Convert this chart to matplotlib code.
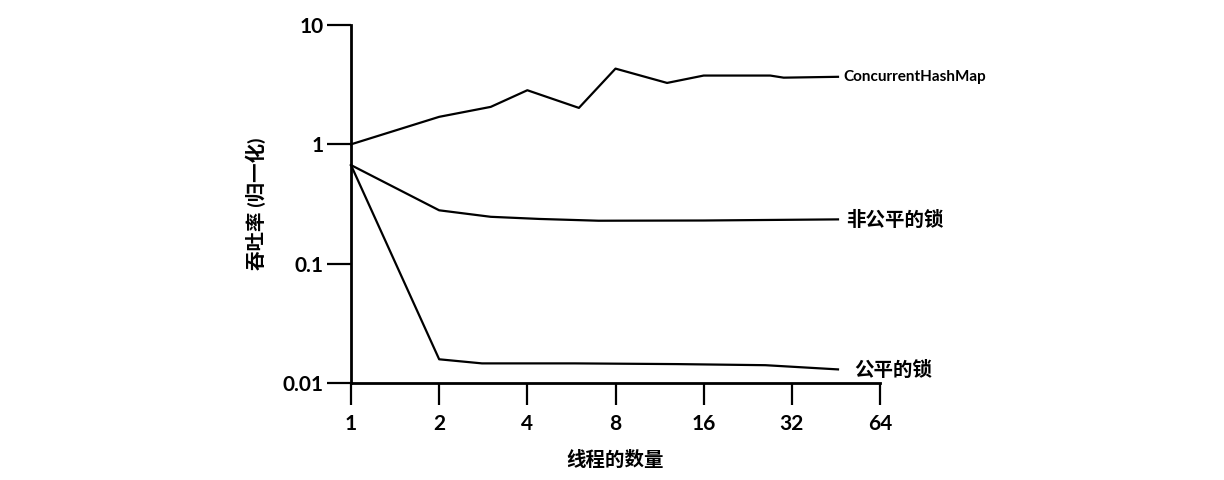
import matplotlib
matplotlib.use("Agg")
import matplotlib.pyplot as plt
from matplotlib.ticker import FixedLocator, NullLocator

plt.rcParams['font.family'] = ['Lato', 'Noto Sans CJK SC', 'DejaVu Sans']

# thread counts and normalised throughput
chm_threads = [1, 2, 3, 4, 6, 8, 12, 16, 27, 30, 46]
chm_values = [1.0, 1.70, 2.06, 2.84, 2.02, 4.31, 3.27, 3.77, 3.77, 3.62, 3.68]

unfair_threads = [1, 2, 3, 4.4, 7, 16, 46]
unfair_values = [0.67, 0.28, 0.247, 0.237, 0.229, 0.23, 0.235]

fair_threads = [1, 2, 2.8, 5.8, 13, 26, 46]
fair_values = [0.67, 0.0158, 0.0146, 0.0146, 0.0144, 0.0141, 0.0130]

series_labels = ['ConcurrentHashMap', '非公平的锁', '公平的锁']
x_ticks = [1, 2, 4, 8, 16, 32, 64]
y_ticks = [0.01, 0.1, 1, 10]
y_tick_labels = ['0.01', '0.1', '1', '10']

fig = plt.figure(figsize=(12.24, 4.80), dpi=100)
ax = fig.add_axes([351 / 1224, 1 - 383 / 480, (880 - 351) / 1224, (383 - 25) / 480])

ax.set_xscale('log', base=2)
ax.set_yscale('log')

series = [(chm_threads, chm_values), (unfair_threads, unfair_values), (fair_threads, fair_values)]
label_sizes = [11, 14, 14]
label_dx = [4, 6, 12]
for (xs, ys), name, fs, dx in zip(series, series_labels, label_sizes, label_dx):
    ax.plot(xs, ys, color='black', lw=1.6, clip_on=False)
    ax.annotate(name, (xs[-1], ys[-1]), xytext=(dx, 0), textcoords='offset points',
                va='center', ha='left', fontsize=fs, fontweight='bold')

ax.set_xlim(1, 64)
ax.set_ylim(0.01, 10)

ax.xaxis.set_major_locator(FixedLocator(x_ticks))
ax.xaxis.set_minor_locator(NullLocator())
ax.set_xticklabels([str(t) for t in x_ticks])
ax.yaxis.set_major_locator(FixedLocator(y_ticks))
ax.yaxis.set_minor_locator(NullLocator())
ax.set_yticklabels(y_tick_labels)

for side in ['top', 'right']:
    ax.spines[side].set_visible(False)
for side in ['left', 'bottom']:
    ax.spines[side].set_linewidth(2)

ax.tick_params(axis='x', length=16, width=1.6, pad=6, labelsize=15)
ax.tick_params(axis='y', length=17, width=1.6, pad=3, labelsize=15)
for lab in ax.get_xticklabels() + ax.get_yticklabels():
    lab.set_fontweight('bold')

ax.set_xlabel('线程的数量', fontsize=14, fontweight='bold', labelpad=12)
ax.set_ylabel('吞吐率 (归一化)', fontsize=14, fontweight='bold', labelpad=12)

fig.savefig('out.png', dpi=100, facecolor='white')
